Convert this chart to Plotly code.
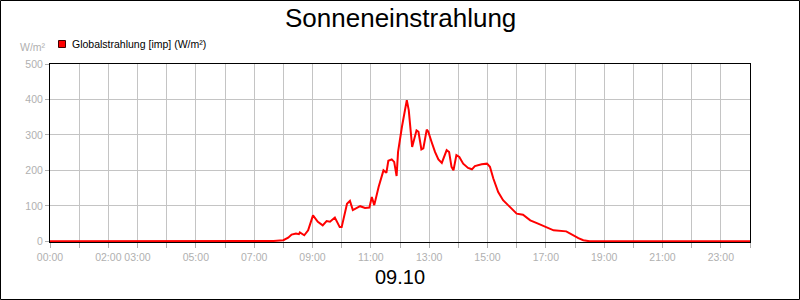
import plotly.graph_objects as go

# ---- data ----
times = ["00:00", "07:30", "07:40", "08:00", "08:10", "08:17", "08:26", "08:32", "08:34", "08:43",
         "08:51", "09:01", "09:11", "09:21", "09:29", "09:36", "09:46", "09:56", "10:00", "10:11",
         "10:17", "10:23", "10:38", "10:48", "10:57", "11:02", "11:07", "11:16", "11:26", "11:32",
         "11:36", "11:43", "11:48", "11:53", "11:56", "12:04", "12:14", "12:18", "12:25", "12:34",
         "12:38", "12:44", "12:48", "12:55", "12:58", "13:05", "13:12", "13:19", "13:26", "13:36",
         "13:41", "13:46", "13:50", "13:56", "14:02", "14:10", "14:20", "14:28", "14:34", "14:48",
         "14:59", "15:05", "15:12", "15:22", "15:32", "15:46", "16:00", "16:13", "16:28", "16:44",
         "17:02", "17:16", "17:42", "17:56", "18:07", "18:17", "18:30", "24:00"]
radiation = [0, 0, 1, 3, 10, 19, 22, 20, 25, 17,
             31, 73, 55, 45, 57, 55, 67, 40, 40, 106,
             114, 88, 99, 94, 95, 125, 102, 153, 200, 193,
             227, 231, 224, 184, 252, 323, 398, 370, 266, 313,
             309, 259, 262, 315, 310, 280, 252, 231, 221, 257,
             252, 210, 200, 243, 238, 219, 207, 203, 212, 217,
             219, 210, 177, 139, 116, 97, 78, 75, 59, 50,
             39, 31, 28, 17, 9, 3, 0, 0]
hour_ticks = list(range(0, 25))
hour_labels = ["00:00", "", "02:00", "03:00", "", "05:00", "", "07:00", "", "09:00", "",
               "11:00", "", "13:00", "", "15:00", "", "17:00", "", "19:00", "", "21:00", "",
               "23:00", ""]
y_ticks = [0, 100, 200, 300, 400, 500]

title_text = "Sonneneinstrahlung"
date_text = "09.10"
series_name = "Globalstrahlung [imp] (W/m²)"
unit_text = "W/m²"


def to_hours(t):
    h, m = t.split(":")
    return int(h) + int(m) / 60.0


x_hours = [to_hours(t) for t in times]

FONT = "Liberation Sans, Arial, sans-serif"
GRAY = "#b0b0b0"
GRID = "#c4c4c4"

W, H = 800, 300
L, R, T, B = 50, 50, 64, 58
pw, ph = W - L - R, H - T - B

fig = go.Figure()
fig.add_trace(go.Scatter(x=x_hours, y=radiation, mode="lines", name=series_name,
                         line=dict(color="#ff0000", width=2), showlegend=False))


def px_x(px):
    return (px - L) / pw


def px_y(py):
    return (H - B - py) / ph


shapes = [
    # outer border of the image
    dict(type="rect", xref="paper", yref="paper",
         x0=px_x(0.5), x1=px_x(W - 0.5), y0=px_y(H - 0.5), y1=px_y(0.5),
         line=dict(color="black", width=1), fillcolor="rgba(0,0,0,0)"),
    # legend swatch
    dict(type="rect", xref="paper", yref="paper",
         x0=px_x(58.5), x1=px_x(65.5), y0=px_y(47.5), y1=px_y(40.5),
         line=dict(color="#400000", width=1), fillcolor="#ff0000"),
]

annotations = [
    dict(text=series_name, xref="paper", yref="paper", x=px_x(70), y=px_y(44),
         xanchor="left", yanchor="middle", showarrow=False,
         font=dict(family=FONT, size=10.5, color="black")),
    dict(text=unit_text, xref="paper", yref="paper", x=px_x(48), y=px_y(47),
         xanchor="right", yanchor="middle", showarrow=False,
         font=dict(family=FONT, size=10.5, color=GRAY)),
    dict(text=title_text, xref="paper", yref="paper", x=px_x(400), y=px_y(18),
         xanchor="center", yanchor="middle", showarrow=False,
         font=dict(family=FONT, size=26, color="black")),
    dict(text=date_text, xref="paper", yref="paper", x=px_x(400), y=px_y(277),
         xanchor="center", yanchor="middle", showarrow=False,
         font=dict(family=FONT, size=20, color="black")),
]

fig.update_layout(
    width=W, height=H,
    margin=dict(l=L, r=R, t=T, b=B, pad=0),
    paper_bgcolor="white", plot_bgcolor="white",
    showlegend=False,
    shapes=shapes,
    annotations=annotations,
    font=dict(family=FONT, size=10.5, color=GRAY),
    xaxis=dict(range=[0, 24], tickvals=hour_ticks, ticktext=hour_labels,
               showgrid=True, gridcolor=GRID, gridwidth=1, zeroline=False,
               showline=True, linecolor="black", linewidth=1, mirror=True,
               ticks="outside", ticklen=5, tickcolor=GRAY,
               tickfont=dict(family=FONT, size=10.5, color=GRAY)),
    yaxis=dict(range=[-2, 500], tickvals=y_ticks,
               showgrid=True, gridcolor=GRID, gridwidth=1, zeroline=False,
               showline=True, linecolor="black", linewidth=1, mirror=True,
               ticks="outside", ticklen=4, tickcolor=GRAY,
               tickfont=dict(family=FONT, size=10.5, color=GRAY)),
)

fig.write_html("out.html")
